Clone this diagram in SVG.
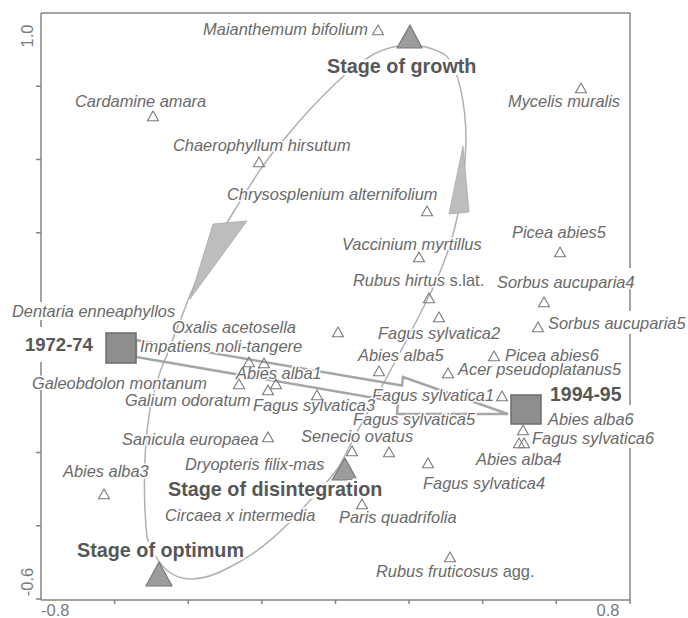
<svg xmlns="http://www.w3.org/2000/svg" width="688" height="618" viewBox="0 0 688 618">
<style>
  .lab { font-family: "Liberation Sans", Arial, sans-serif; font-style: italic; font-size: 16.4px; fill: #6a6a6a; paint-order: stroke; stroke: #fff; stroke-width: 3px; stroke-linejoin: round; }
  .up { font-style: normal; }
  .stage { font-family: "Liberation Sans", Arial, sans-serif; font-weight: bold; font-size: 19.8px; fill: #575757; paint-order: stroke; stroke: #fff; stroke-width: 5px; stroke-linejoin: round; }
  .year { font-family: "Liberation Sans", Arial, sans-serif; font-weight: bold; fill: #575757; paint-order: stroke; stroke: #fff; stroke-width: 4px; stroke-linejoin: round; }
  .axnum { font-family: "Liberation Sans", Arial, sans-serif; font-size: 16.5px; fill: #7a7a7a; }
  .axis { fill: none; stroke: #858585; stroke-width: 1.5; }
  .loop { fill: none; stroke: #b0b0b0; stroke-width: 1.5; }
  .wedge { fill: #bdbdbd; stroke: #a8a8a8; stroke-width: 0.8; }
  .main { fill: none; stroke: #a6a6a6; stroke-width: 2.5; stroke-linejoin: miter; }
  .box { fill: #8e8e8e; stroke: #6c6c6c; stroke-width: 1.5; }
  .big { fill: #9c9c9c; stroke: #777; stroke-width: 1.2; stroke-linejoin: round; }
  .tri { fill: none; stroke: #7a7a7a; stroke-width: 1.1; stroke-linejoin: miter; }
</style>
<defs>
  <path id="t" class="tri" d="M0,-5 L5.5,4.8 L-5.5,4.8 Z"/>
</defs>

<g id="axes">
  <path class="axis" d="M41,13 V302 M41,320 V327 M41,362 V600 M41,600 H630 M41,13 H630 M630,13 V268 M630,282 V311 M630,334 V405 M630,448 V600"/>
  <path class="axis" d="M36,86.3 H41 M36,159.5 H41 M36,232.8 H41 M36,379.3 H41 M36,452.5 H41 M36,525.8 H41 M36,599 H41 M114.6,600 V604 M188.3,600 V604 M261.9,600 V604 M335.5,600 V604 M409.1,600 V604 M482.7,600 V604 M556.3,600 V604 M630,600 V604"/>
  <text class="axnum" text-anchor="middle" transform="translate(33,36) rotate(-90)">1.0</text>
  <text class="axnum" text-anchor="middle" transform="translate(33,582) rotate(-90)">-0.6</text>
  <text class="axnum" x="41" y="616">-0.8</text>
  <text class="axnum" x="608" y="616" text-anchor="middle">0.8</text>
</g>

<g id="connectors">
  <path class="loop" d="M374,54 Q410,36 444,54 C458,64 466,105 466,140 C465,175 462,195 458,213 C452,245 440,275 426,302 C410,335 380,390 362,423 C352,440 346,455 338,468 C328,482 316,494 304,507 C290,522 265,550 230,567 C212,577 195,581 182,578 C170,575 160,565 154,553 C150,546 148,542 147,537 C143,500 143,440 152,400 C157,380 162,365 167,355 C172,340 180,322 188,300 C200,270 215,240 236,208 C250,185 265,160 286,137 C300,120 318,100 336,83 C350,70 360,62 374,54 Z"/>
  <polygon class="wedge" points="213,224 247,221 190,299"/>
  <polygon class="wedge" points="449,214 469,212 463,146"/>
  <polygon class="main" points="136,340 402,385.5 403,377 508,414 397,414 398,402 136,357"/>
</g>

<g id="n1972"><rect class="box" x="106" y="333" width="30" height="30"/><text class="year" x="25" y="351" font-size="18.5">1972-74</text></g>
<g id="n1994"><rect class="box" x="511" y="395" width="30" height="29"/><text class="year" x="550" y="401" font-size="19.5">1994-95</text></g>

<g id="growth"><polygon class="big" points="410,25 422,48 397,48"/><text class="stage" x="327" y="73">Stage of growth</text></g>
<g id="disintegration"><polygon class="big" points="345,458 357,480 332,480"/><text class="stage" x="168" y="496">Stage of disintegration</text></g>
<g id="optimum"><polygon class="big" points="159,562 172,586 146,586"/><text class="stage" x="77" y="557">Stage of optimum</text></g>

<g id="labels">
  <g id="maianthemum"><text class="lab" x="368" y="35" text-anchor="end">Maianthemum bifolium</text></g>
  <g id="cardamine"><text class="lab" x="75" y="107">Cardamine amara</text></g>
  <g id="mycelis"><text class="lab" x="508" y="107">Mycelis muralis</text></g>
  <g id="chaerophyllum"><text class="lab" x="173" y="151">Chaerophyllum hirsutum</text></g>
  <g id="chrysosplenium"><text class="lab" x="227" y="200">Chrysosplenium alternifolium</text></g>
  <g id="vaccinium"><text class="lab" x="342" y="250">Vaccinium myrtillus</text></g>
  <g id="rubushirtus"><text class="lab" x="353" y="286">Rubus hirtus <tspan class="up">s.lat.</tspan></text></g>
  <g id="picea5"><text class="lab" x="512" y="238">Picea abies5</text></g>
  <g id="sorbus4"><text class="lab" x="497" y="288">Sorbus aucuparia4</text></g>
  <g id="sorbus5"><text class="lab" x="548" y="329">Sorbus aucuparia5</text></g>
  <g id="dentaria"><text class="lab" x="12" y="317">Dentaria enneaphyllos</text></g>
  <g id="oxalis"><text class="lab" x="172" y="333">Oxalis acetosella</text></g>
  <g id="fagus2"><text class="lab" x="378" y="339">Fagus sylvatica2</text></g>
  <g id="impatiens"><text class="lab" x="140" y="352">Impatiens noli-tangere</text></g>
  <g id="abies5"><text class="lab" x="358" y="361">Abies alba5</text></g>
  <g id="picea6"><text class="lab" x="505" y="361">Picea abies6</text></g>
  <g id="acer"><text class="lab" x="458" y="375">Acer pseudoplatanus5</text></g>
  <g id="abies1"><text class="lab" x="236" y="379">Abies alba1</text></g>
  <g id="galeobdolon"><text class="lab" x="32" y="389">Galeobdolon montanum</text></g>
  <g id="fagus1"><text class="lab" x="372" y="401">Fagus sylvatica1</text></g>
  <g id="galium"><text class="lab" x="125" y="406">Galium odoratum</text></g>
  <g id="fagus3"><text class="lab" x="253" y="411">Fagus sylvatica3</text></g>
  <g id="fagus5"><text class="lab" x="353" y="425">Fagus sylvatica5</text></g>
  <g id="abies6"><text class="lab" x="548" y="425">Abies alba6</text></g>
  <g id="senecio"><text class="lab" x="301" y="442">Senecio ovatus</text></g>
  <g id="fagus6"><text class="lab" x="532" y="444">Fagus sylvatica6</text></g>
  <g id="sanicula"><text class="lab" x="122" y="445">Sanicula europaea</text></g>
  <g id="abies4"><text class="lab" x="476" y="465">Abies alba4</text></g>
  <g id="dryopteris"><text class="lab" x="185" y="470">Dryopteris filix-mas</text></g>
  <g id="abies3"><text class="lab" x="63" y="477">Abies alba3</text></g>
  <g id="fagus4"><text class="lab" x="423" y="489">Fagus sylvatica4</text></g>
  <g id="circaea"><text class="lab" x="165" y="521">Circaea x intermedia</text></g>
  <g id="paris"><text class="lab" x="339" y="523">Paris quadrifolia</text></g>
  <g id="rubusfrut"><text class="lab" x="376" y="577">Rubus fruticosus <tspan class="up">agg.</tspan></text></g>
</g>

<g id="species-points">
  <use href="#t" x="378" y="30"/>
  <use href="#t" x="153" y="116"/>
  <use href="#t" x="581" y="88"/>
  <use href="#t" x="259" y="162"/>
  <use href="#t" x="427" y="211"/>
  <use href="#t" x="419" y="257"/>
  <use href="#t" x="429" y="298"/>
  <use href="#t" x="439" y="317"/>
  <use href="#t" x="338" y="332"/>
  <use href="#t" x="249" y="362"/>
  <use href="#t" x="264" y="363"/>
  <use href="#t" x="239" y="384"/>
  <use href="#t" x="276" y="384"/>
  <use href="#t" x="268" y="390"/>
  <use href="#t" x="317" y="395"/>
  <use href="#t" x="379" y="371"/>
  <use href="#t" x="448" y="373"/>
  <use href="#t" x="494" y="356"/>
  <use href="#t" x="560" y="252"/>
  <use href="#t" x="544" y="302"/>
  <use href="#t" x="538" y="327"/>
  <use href="#t" x="502" y="396"/>
  <use href="#t" x="523" y="430"/>
  <use href="#t" x="519" y="443"/>
  <use href="#t" x="524" y="443"/>
  <use href="#t" x="268" y="437"/>
  <use href="#t" x="352" y="451"/>
  <use href="#t" x="389" y="452"/>
  <use href="#t" x="428" y="463"/>
  <use href="#t" x="362" y="504"/>
  <use href="#t" x="450" y="557"/>
  <use href="#t" x="104" y="494"/>
</g>
</svg>
